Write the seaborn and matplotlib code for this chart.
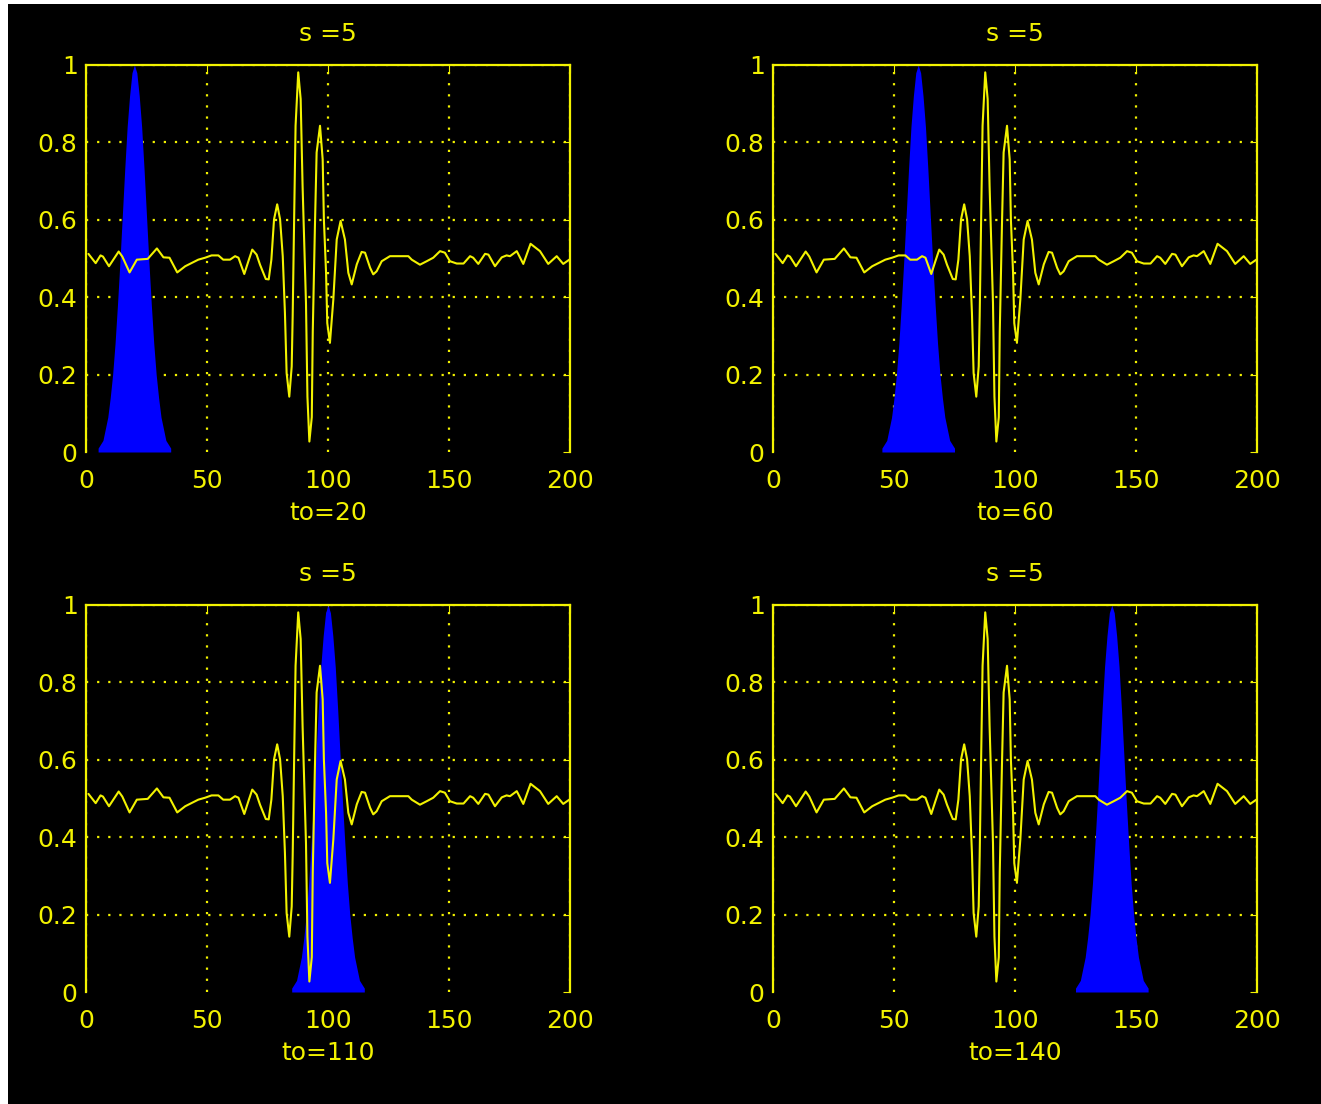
import numpy as np
import pandas as pd
import seaborn as sns
import matplotlib.pyplot as plt
from matplotlib.patches import Rectangle

# signal vertices (same signal in every panel)
sig_t = [1, 4, 6, 7, 9.5, 13.5, 15, 18, 21, 25.5, 29.3, 32, 34.5, 37.7, 41, 46.4,
         49.2, 51.9, 54.7, 56.7, 59.5, 61.6, 63, 65.4, 67.1, 68.7, 70.5, 71.9, 74.3,
         75.5, 76.6, 77.7, 79, 80.2, 81.3, 82.2, 82.9, 84, 85, 85.4, 86, 86.6, 87.7,
         88.7, 89.5, 90.9, 91.5, 92.3, 93.3, 93.7, 94.6, 95.3, 96.7, 97.8, 98.3, 99.2,
         99.7, 100.8, 102.2, 103.6, 105.2, 107, 108.4, 109.8, 111.9, 113.9, 115.3,
         117.4, 118.7, 120.1, 122.2, 125.6, 133.2, 134.6, 138, 140.8, 143.5, 146.3,
         148.3, 150.4, 153.2, 156, 158.7, 160, 162.1, 164.9, 166.3, 169, 171.8, 173.8,
         175.2, 178, 180.7, 183.7, 187.6, 191, 194.5, 197.2, 199.7]
sig_y = [0.512, 0.488, 0.508, 0.505, 0.48, 0.518, 0.505, 0.464, 0.497, 0.499, 0.526,
         0.503, 0.502, 0.464, 0.48, 0.497, 0.502, 0.508, 0.508, 0.497, 0.497, 0.506,
         0.502, 0.46, 0.493, 0.523, 0.51, 0.484, 0.447, 0.446, 0.497, 0.601, 0.64,
         0.601, 0.506, 0.36, 0.204, 0.143, 0.221, 0.35, 0.6, 0.843, 0.981, 0.912,
         0.687, 0.385, 0.143, 0.027, 0.09, 0.31, 0.584, 0.774, 0.843, 0.756, 0.601,
         0.463, 0.333, 0.282, 0.394, 0.549, 0.597, 0.549, 0.463, 0.433, 0.485, 0.517,
         0.515, 0.476, 0.459, 0.467, 0.493, 0.506, 0.506, 0.497, 0.484, 0.493, 0.502,
         0.519, 0.515, 0.493, 0.487, 0.487, 0.506, 0.502, 0.486, 0.512, 0.51, 0.48,
         0.503, 0.508, 0.506, 0.519, 0.486, 0.538, 0.519, 0.486, 0.506, 0.486, 0.497]

# window shape, offsets -15..15 around the centre
win_off = list(range(-15, 16))
win_half = [1.0, 0.98, 0.92, 0.84, 0.73, 0.61, 0.49, 0.38, 0.28, 0.2, 0.14, 0.09,
            0.06, 0.03, 0.02, 0.01]
win_val = win_half[::-1][:-1] + win_half

centers = [20, 60, 100, 140]   # where the blue window sits in each panel
titles = ["s =5", "s =5", "s =5", "s =5"]
xlabels = ["to=20", "to=60", "to=110", "to=140"]
xticks = [0, 50, 100, 150, 200]
yticks = [0, 0.2, 0.4, 0.6, 0.8, 1]
yticklabels = ["0", "0.2", "0.4", "0.6", "0.8", "1"]

YEL = "#f2f200"
sns.set_style("dark")
plt.rcParams["font.family"] = ["DejaVu Sans"]

W, H = 1321, 1104
fig = plt.figure(figsize=(W / 100, H / 100), dpi=100, facecolor="white")
fig.patches.append(Rectangle((8 / W, 0), 1 - 8 / W, 1 - 4 / H, transform=fig.transFigure,
                             facecolor="black", edgecolor="none", zorder=-1))

sig = pd.DataFrame({"t": sig_t, "y": sig_y})
lefts = [86, 773, 86, 773]
tops = [65, 65, 605, 605]
for i in range(4):
    ax = fig.add_axes([lefts[i] / W, 1 - (tops[i] + 387) / H, 484 / W, 387 / H])
    ax.set_facecolor("black")
    wt = [centers[i] + o for o in win_off]
    ax.fill_between(wt, 0, win_val, color="#0000ff", linewidth=0, zorder=2)
    sns.lineplot(data=sig, x="t", y="y", ax=ax, color=YEL, linewidth=1.5, zorder=3)
    ax.set_xlim(0, 200)
    ax.set_ylim(0, 1)
    ax.set_xticks(xticks)
    ax.set_yticks(yticks)
    ax.set_yticklabels(yticklabels)
    ax.grid(True, color=YEL, linestyle=(0, (1, 4)), linewidth=1.6, zorder=1)
    ax.get_ygridlines()[0].set_visible(False)
    for s in ["top", "left", "right"]:
        ax.spines[s].set_visible(True)
        ax.spines[s].set_color(YEL)
        ax.spines[s].set_linewidth(1.6)
    ax.spines["bottom"].set_visible(False)
    ax.tick_params(axis="x", colors=YEL, labelsize=18, direction="in", length=6, pad=12,
                   top=True, bottom=False)
    ax.tick_params(axis="y", colors=YEL, labelsize=18, direction="in", length=5, pad=6,
                   right=True)
    ax.set_title(titles[i], color=YEL, fontsize=18, pad=17)
    ax.set_xlabel(xlabels[i], color=YEL, fontsize=18, labelpad=6)
    ax.set_ylabel("")

fig.savefig("out.png", dpi=100, facecolor=fig.get_facecolor())
